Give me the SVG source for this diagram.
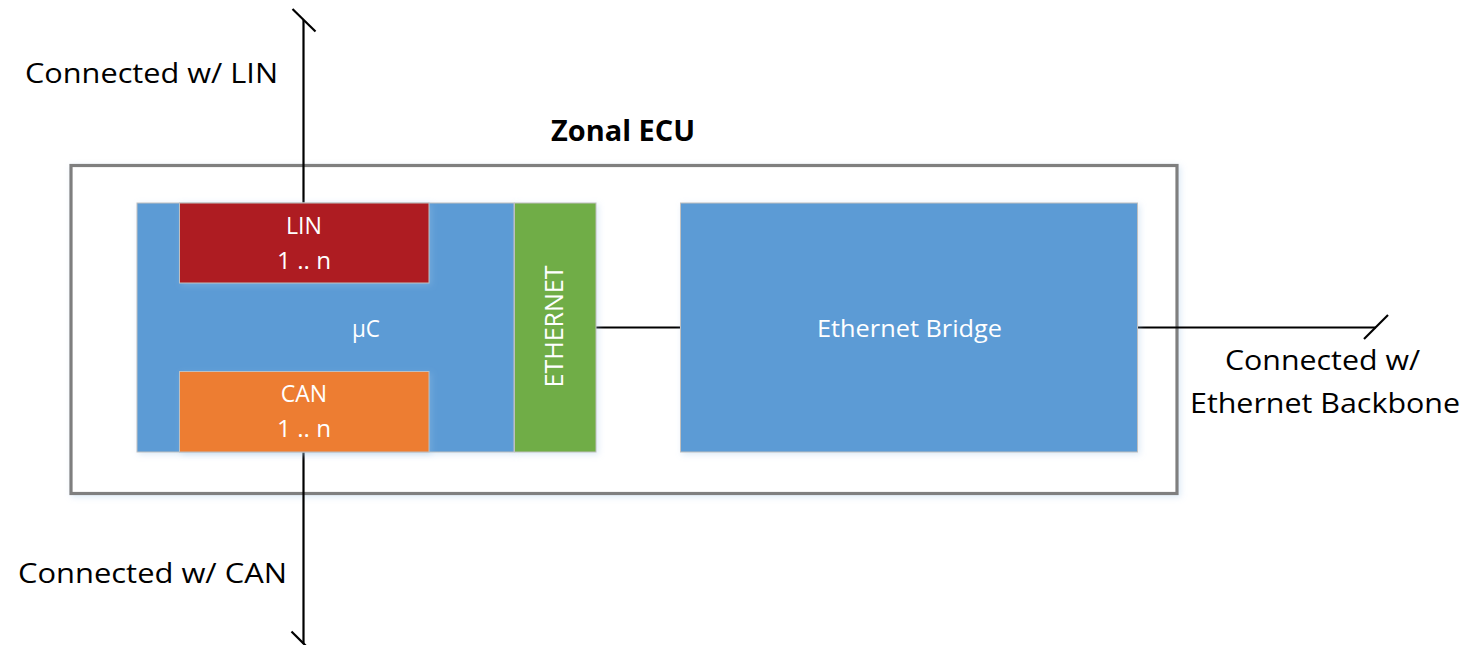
<svg xmlns="http://www.w3.org/2000/svg" width="1484" height="645" viewBox="0 0 1484 645">
  <defs>
    <filter id="sh" x="-10%" y="-10%" width="120%" height="120%">
      <feDropShadow dx="2" dy="2" stdDeviation="3" flood-color="#9dc3e6" flood-opacity="0.35"/>
    </filter>
  </defs>
  <style>
    .lbl { font-family: "Open Sans", "Liberation Sans", sans-serif; fill: #000; }
    .in { font-family: "Open Sans", "Liberation Sans", sans-serif; fill: #fff; text-anchor: middle; }
    .box { stroke: #bfbfbf; stroke-width: 1; filter: url(#sh); }
    .wire { stroke: #000; stroke-width: 2.2; fill: none; }
  </style>
  <rect width="1484" height="645" fill="#fff"/>

  <g id="zonal-ecu">
    <rect x="71" y="165.5" width="1106" height="328" fill="#fff" stroke="#7f7f7f" stroke-width="3.2" filter="url(#sh)"/>
    <text class="lbl" x="551" y="141" font-size="28" font-weight="bold" textLength="144" lengthAdjust="spacingAndGlyphs">Zonal ECU</text>
  </g>

  <g id="connectors">
    <line class="wire" x1="303.5" y1="20" x2="303.5" y2="203"/>
    <line class="wire" x1="292.5" y1="9" x2="315.5" y2="31.5"/>
    <line class="wire" x1="303.5" y1="452" x2="303.5" y2="644"/>
    <line class="wire" x1="291.5" y1="631.5" x2="316" y2="656"/>
    <line class="wire" x1="596" y1="327.5" x2="680" y2="327.5"/>
    <line class="wire" x1="1138" y1="327.5" x2="1376" y2="327.5"/>
    <line class="wire" x1="1364" y1="339" x2="1388" y2="315"/>
  </g>

  <g id="uc">
    <rect class="box" x="137" y="203" width="377" height="249" fill="#5b9bd5"/>
    <text class="in" x="366" y="337" font-size="23" textLength="28" lengthAdjust="spacingAndGlyphs">µC</text>
  </g>

  <g id="lin">
    <rect class="box" x="179.5" y="203" width="249.5" height="80" fill="#ae1e23"/>
    <text class="in" x="304" y="234" font-size="23" textLength="36" lengthAdjust="spacingAndGlyphs">LIN</text>
    <text class="in" x="304" y="269" font-size="23" textLength="54" lengthAdjust="spacingAndGlyphs">1 .. n</text>
  </g>

  <g id="can">
    <rect class="box" x="179.5" y="371.5" width="249.5" height="80.5" fill="#ed7d31"/>
    <text class="in" x="304" y="402" font-size="23">CAN</text>
    <text class="in" x="304" y="437" font-size="23" textLength="54" lengthAdjust="spacingAndGlyphs">1 .. n</text>
  </g>

  <g id="ethernet">
    <rect class="box" x="514.5" y="203" width="81.5" height="249" fill="#70ad47"/>
    <text class="in" transform="translate(563 326.5) rotate(-90)" x="0" y="0" font-size="25" textLength="122" lengthAdjust="spacingAndGlyphs">ETHERNET</text>
  </g>

  <g id="ethernet-bridge">
    <rect class="box" x="680.5" y="203" width="457" height="249" fill="#5b9bd5"/>
    <text class="in" x="909.5" y="337" font-size="24" textLength="185" lengthAdjust="spacingAndGlyphs">Ethernet Bridge</text>
  </g>

  <g id="labels">
    <text class="lbl" x="25" y="83" font-size="28" textLength="253" lengthAdjust="spacingAndGlyphs">Connected w/ LIN</text>
    <text class="lbl" x="18" y="583" font-size="28" textLength="269" lengthAdjust="spacingAndGlyphs">Connected w/ CAN</text>
    <text class="lbl" x="1225" y="370" font-size="28" textLength="195" lengthAdjust="spacingAndGlyphs">Connected w/</text>
    <text class="lbl" x="1190" y="413" font-size="28" textLength="270" lengthAdjust="spacingAndGlyphs">Ethernet Backbone</text>
  </g>
</svg>
